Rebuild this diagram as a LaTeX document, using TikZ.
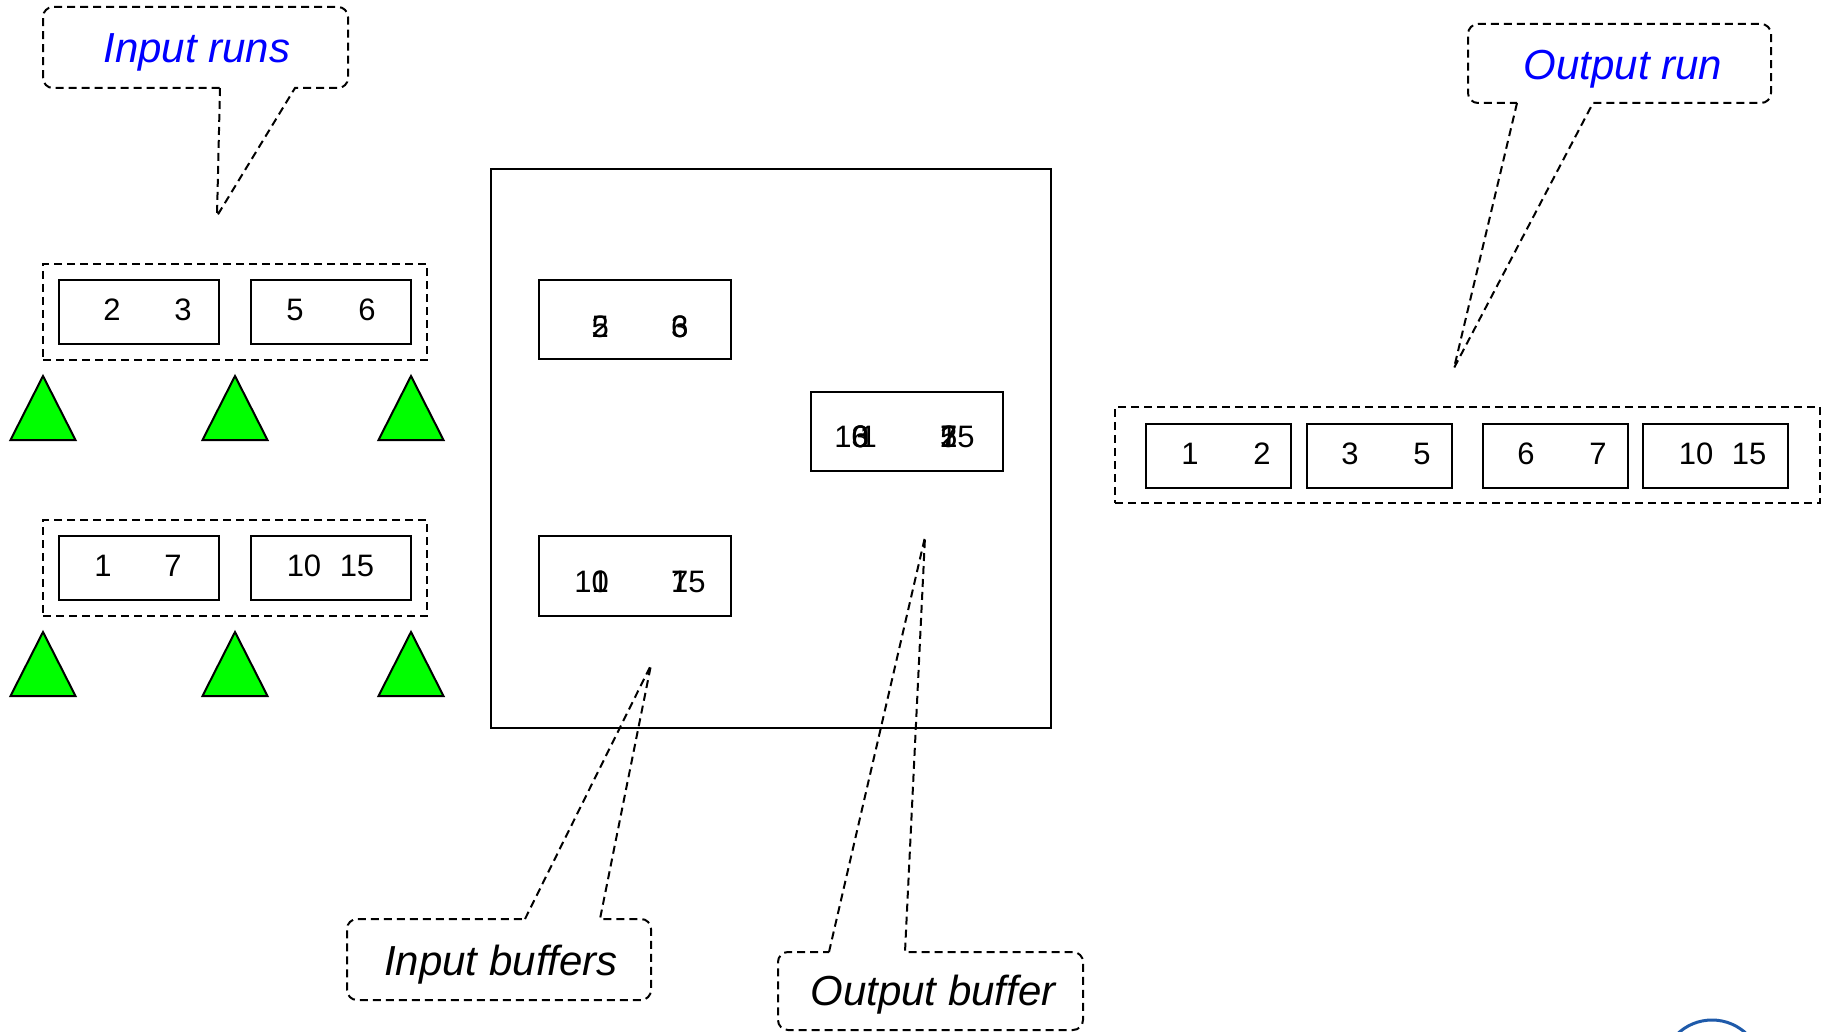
\documentclass[tikz,border=0pt]{standalone}
\usepackage{fontspec}
\setmainfont{Liberation Sans}
\usepackage{tikz}
\definecolor{runblue}{RGB}{0,0,255}
\definecolor{logoblue}{RGB}{30,90,170}
\definecolor{markgreen}{RGB}{0,255,0}
\tikzset{
	cell/.append style={
		draw,
		line width=2pt,
		inner sep=0pt,
		minimum height=64pt,
	},
	runbox/.append style={
		draw,
		dash pattern=on 8pt off 5pt,
		line width=2pt,
		inner sep=0pt,
		minimum height=96pt,
	},
	num/.append style={
		inner sep=0pt,
		font={\fontsize{31}{31}\selectfont}
	},
	say/.append style={
		inner sep=0pt,
		anchor=base,
		font={\fontsize{42}{42}\selectfont\itshape}
	},
	balloon/.append style={
		draw,
		dash pattern=on 8pt off 5pt,
		line width=2pt,
	},
	marker/.append style={
		draw,
		line width=2pt,
		fill=markgreen,
	}
}

\begin{document}
\begin{tikzpicture}[x=1pt, y=-1pt]
		\useasboundingbox (0,0) rectangle (1825,1032);
		
		% input runs
		\node(runa)[runbox, minimum width=384pt] at (235,312) {};
		\node(runaone)[cell, minimum width=160pt] at (139,312) {};
		\node(runatwo)[cell, minimum width=160pt] at (331,312) {};
		\node(na1)[num] at (112,310) {2};
		\node(na2)[num] at (183,310) {3};
		\node(na3)[num] at (295,310) {5};
		\node(na4)[num] at (367,310) {6};
		
		\node(runb)[runbox, minimum width=384pt] at (235,568) {};
		\node(runbone)[cell, minimum width=160pt] at (139,568) {};
		\node(runbtwo)[cell, minimum width=160pt] at (331,568) {};
		\node(nb1)[num] at (103,566) {1};
		\node(nb2)[num] at (173,566) {7};
		\node(nb3)[num] at (304,566) {10};
		\node(nb4)[num] at (357,566) {15};
		
		\draw[marker] (10.5,440) -- (43,376) -- (75.5,440) -- cycle;
		\draw[marker] (202.5,440) -- (235,376) -- (267.5,440) -- cycle;
		\draw[marker] (378.5,440) -- (411,376) -- (443.5,440) -- cycle;
		\draw[marker] (10.5,696) -- (43,632) -- (75.5,696) -- cycle;
		\draw[marker] (202.5,696) -- (235,632) -- (267.5,696) -- cycle;
		\draw[marker] (378.5,696) -- (411,632) -- (443.5,696) -- cycle;
		
		% memory
		\node(memory)[draw, line width=2pt, minimum width=560pt, minimum height=559pt] at (771,448.5) {};
		\node(bufa)[cell, minimum width=192pt, minimum height=79pt] at (635,319.5) {};
		\node(bufb)[cell, minimum width=192pt, minimum height=80pt] at (635,576) {};
		\node(bufout)[cell, minimum width=192pt, minimum height=79pt] at (907,431.5) {};
		
		\node(ba1)[num, anchor=east] at (609,327) {2};
		\node(ba2)[num, anchor=east] at (609,327) {5};
		\node(ba3)[num, anchor=west] at (671,327) {3};
		\node(ba4)[num, anchor=west] at (671,327) {6};
		
		\node(bb1)[num, anchor=east] at (609,582) {1};
		\node(bb2)[num, anchor=east] at (609,582) {10};
		\node(bb3)[num, anchor=west] at (671,582) {7};
		\node(bb4)[num, anchor=west] at (671,582) {15};
		
		\node(bo1)[num, anchor=east] at (877,437) {1};
		\node(bo2)[num, anchor=east] at (869,437) {3};
		\node(bo3)[num, anchor=east] at (869,437) {6};
		\node(bo4)[num, anchor=east] at (869,437) {10};
		\node(bo5)[num, anchor=west] at (940,437) {2};
		\node(bo6)[num, anchor=west] at (940,437) {5};
		\node(bo7)[num, anchor=west] at (940,437) {7};
		\node(bo8)[num, anchor=west] at (940,437) {15};
		
		% output run
		\node(outrun)[runbox, minimum width=705pt] at (1467.5,455) {};
		\node(outone)[cell, minimum width=145pt] at (1218.5,456) {};
		\node(outtwo)[cell, minimum width=145pt] at (1379,456) {};
		\node(outthree)[cell, minimum width=145pt] at (1555.5,456) {};
		\node(outfour)[cell, minimum width=145pt] at (1715,456) {};
		\node(no1)[num] at (1190,454) {1};
		\node(no2)[num] at (1262,454) {2};
		\node(no3)[num] at (1350,454) {3};
		\node(no4)[num] at (1422,454) {5};
		\node(no5)[num] at (1526,454) {6};
		\node(no6)[num] at (1598,454) {7};
		\node(no7)[num] at (1696,454) {10};
		\node(no8)[num] at (1749,454) {15};
		
		% callouts
		\node(inrunslbl)[say, runblue] at (197,63) {Input runs};
		\draw[balloon] (220,88) -- (217,216) -- (295,88) [rounded corners=10pt] -- (348,88) -- (348,7) -- (43,7) -- (43,88) [sharp corners] -- (220,88);
		
		\node(outrunlbl)[say, runblue] at (1623,80) {Output run};
		\draw[balloon] (1517,103) -- (1454,368) -- (1593,103) [rounded corners=10pt] -- (1771,103) -- (1771,24) -- (1468,24) -- (1468,103) [sharp corners] -- (1517,103);
		
		\node(inbuflbl)[say] at (501,975) {Input buffers};
		\draw[balloon] (525,919) -- (651,665) -- (600,919) [rounded corners=10pt] -- (651,919) -- (651,1000) -- (347,1000) -- (347,919) [sharp corners] -- (525,919);
		
		\node(outbuflbl)[say] at (933,1005) {Output buffer};
		\draw[balloon] (829,952) -- (925,537) -- (905,952) [rounded corners=10pt] -- (1083,952) -- (1083,1030) -- (778,1030) -- (778,952) [sharp corners] -- (829,952);
		
		\begin{scope}
		\clip (0,0) rectangle (1825,1032);
		\draw[logoblue, line width=3pt] (1712,1070) circle[radius=50];
		\end{scope}
		\end{tikzpicture}
\end{document}
